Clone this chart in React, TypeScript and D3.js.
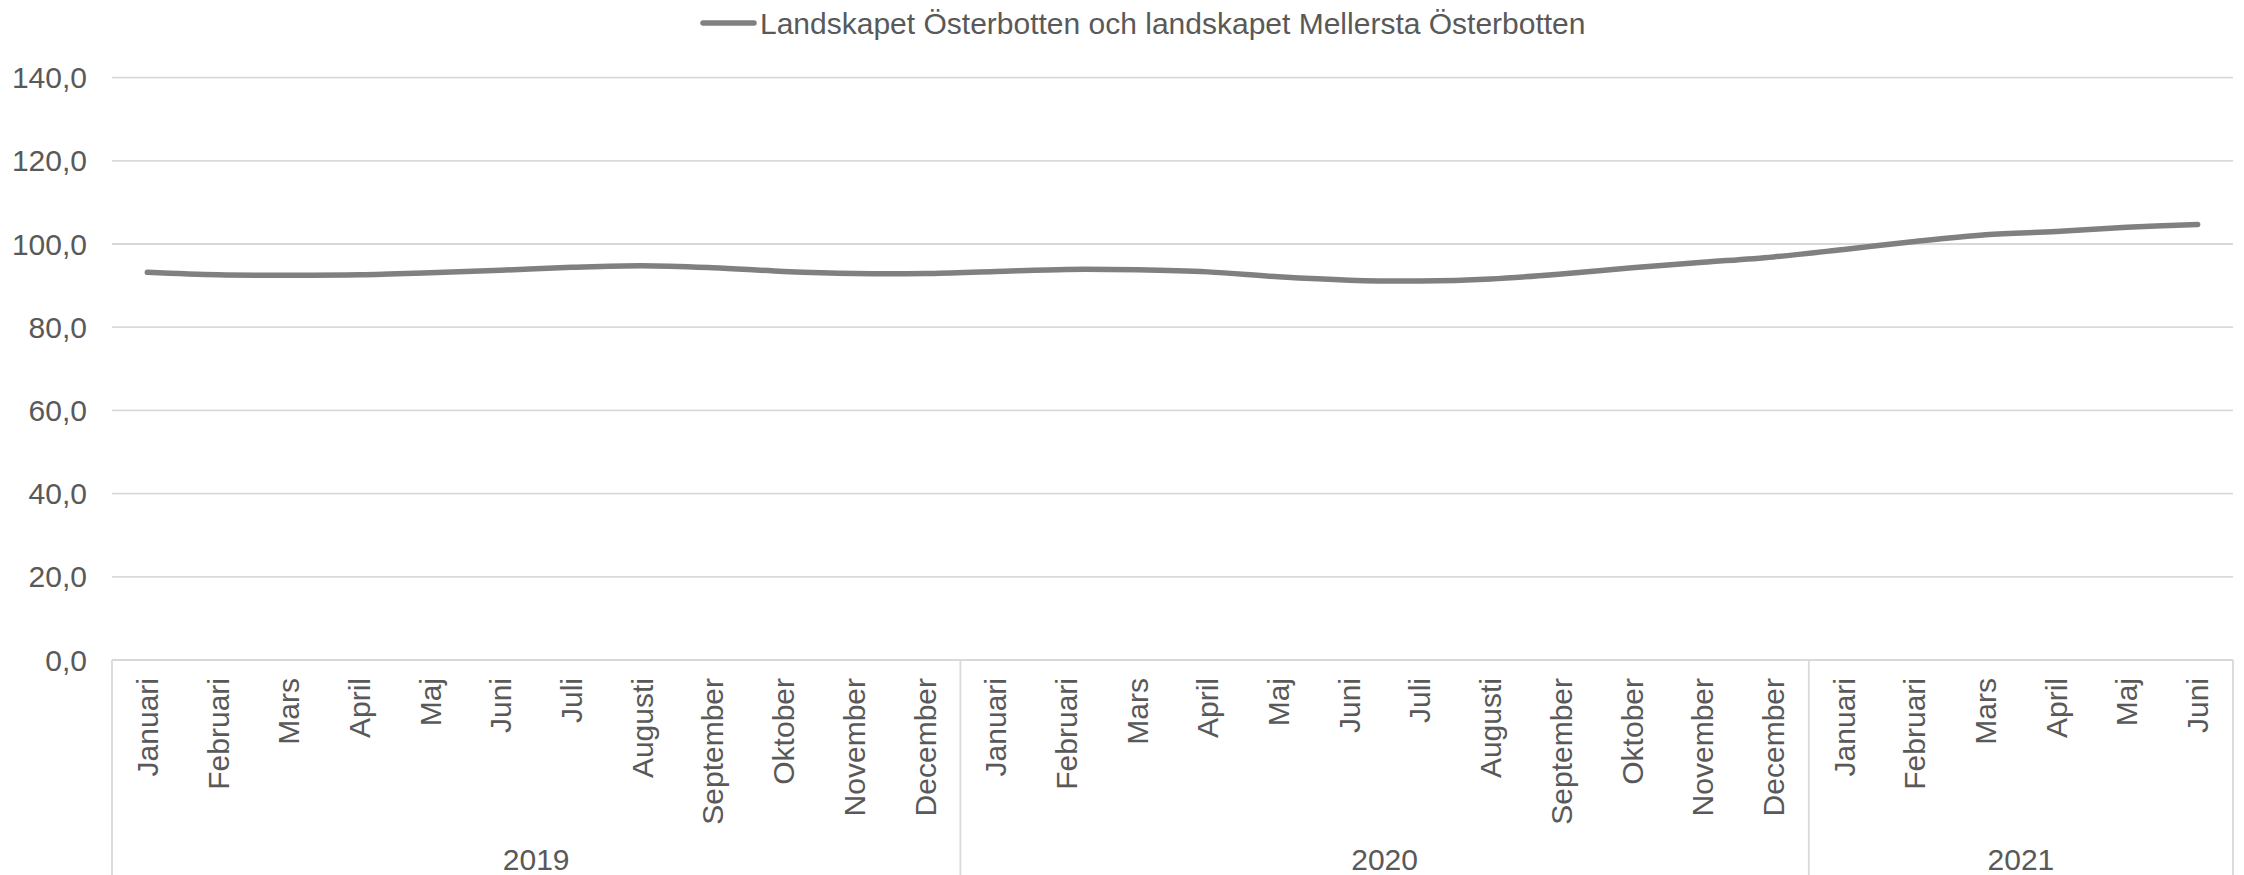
import * as d3 from "d3";
import { useEffect, useRef } from "react";

// series + categories
const seriesName = "Landskapet Österbotten och landskapet Mellersta Österbotten";
const years = ["2019", "2020", "2021"];
const monthsPerYear = [12, 12, 6];
const monthNames = [
  "Januari",
  "Februari",
  "Mars",
  "April",
  "Maj",
  "Juni",
  "Juli",
  "Augusti",
  "September",
  "Oktober",
  "November",
  "December",
];
const values = [
  93.2, 92.6, 92.5, 92.6, 93.1, 93.7, 94.4, 94.8, 94.3, 93.4, 92.9, 92.9,
  93.4, 93.9, 93.8, 93.3, 92.1, 91.3, 91.1, 91.6, 92.8, 94.3, 95.6, 96.9,
  98.7, 100.6, 102.2, 103.0, 104.0, 104.7,
];
const yTicks = [0, 20, 40, 60, 80, 100, 120, 140];

export default function App() {
  const ref = useRef<SVGSVGElement | null>(null);

  useEffect(() => {
    const width = 2244;
    const height = 875;
    const margin = { top: 77.6, right: 11, bottom: 215, left: 112 };
    const font = "'Liberation Sans', Arial, sans-serif";
    const fontSize = 30;
    const textColor = "#595959";
    const gridColor = "#d9d9d9";
    const lineColor = "#808080";

    const svg = d3.select(ref.current);
    svg.selectAll("*").remove();

    const categories = years.flatMap((year, yi) =>
      monthNames.slice(0, monthsPerYear[yi]).map((month) => ({ year, month, key: `${year}-${month}` }))
    );

    const x = d3
      .scaleBand()
      .domain(categories.map((d) => d.key))
      .range([margin.left, width - margin.right])
      .padding(0);
    const y = d3
      .scaleLinear()
      .domain([0, 140])
      .range([height - margin.bottom, margin.top]);
    const cx = (i: number) => x(categories[i].key)! + x.bandwidth() / 2;

    // gridlines (the 0 line doubles as the axis line)
    svg
      .append("g")
      .selectAll("line")
      .data(yTicks)
      .enter()
      .append("line")
      .attr("x1", margin.left)
      .attr("x2", width - margin.right)
      .attr("y1", (d) => y(d))
      .attr("y2", (d) => y(d))
      .attr("stroke", gridColor)
      .attr("stroke-width", 1.8);

    // y labels
    const fmt = d3.format(".1f");
    svg
      .append("g")
      .selectAll("text")
      .data(yTicks)
      .enter()
      .append("text")
      .attr("x", 87)
      .attr("y", (d) => y(d))
      .attr("dy", "0.35em")
      .attr("text-anchor", "end")
      .attr("font-family", font)
      .attr("font-size", fontSize)
      .attr("fill", textColor)
      .text((d) => fmt(d).replace(".", ","));

    // year group separators
    let start = 0;
    const groups = years.map((year, yi) => {
      const g = { year, first: start, last: start + monthsPerYear[yi] - 1 };
      start += monthsPerYear[yi];
      return g;
    });
    const bounds = [
      ...groups.map((g) => x(categories[g.first].key)!),
      x(categories[categories.length - 1].key)! + x.bandwidth(),
    ];
    svg
      .append("g")
      .selectAll("line")
      .data(bounds)
      .enter()
      .append("line")
      .attr("x1", (d) => d)
      .attr("x2", (d) => d)
      .attr("y1", y(0))
      .attr("y2", height)
      .attr("stroke", gridColor)
      .attr("stroke-width", 1.8);

    // month labels
    svg
      .append("g")
      .selectAll("text")
      .data(categories)
      .enter()
      .append("text")
      .attr("transform", (_, i) => `translate(${cx(i)},${y(0) + 18}) rotate(-90)`)
      .attr("dy", "0.35em")
      .attr("text-anchor", "end")
      .attr("font-family", font)
      .attr("font-size", fontSize)
      .attr("fill", textColor)
      .text((d) => d.month);

    // year labels
    svg
      .append("g")
      .selectAll("text")
      .data(groups)
      .enter()
      .append("text")
      .attr("x", (g) => (x(categories[g.first].key)! + x(categories[g.last].key)! + x.bandwidth()) / 2)
      .attr("y", 859)
      .attr("dy", "0.35em")
      .attr("text-anchor", "middle")
      .attr("font-family", font)
      .attr("font-size", fontSize)
      .attr("fill", textColor)
      .text((g) => g.year);

    // series line
    svg
      .append("path")
      .datum(values)
      .attr("fill", "none")
      .attr("stroke", lineColor)
      .attr("stroke-width", 5.5)
      .attr("stroke-linecap", "round")
      .attr("stroke-linejoin", "round")
      .attr(
        "d",
        d3
          .line<number>()
          .x((_, i) => cx(i))
          .y((d) => y(d))
          .curve(d3.curveCatmullRom.alpha(0.5))
      );

    // legend
    const legend = svg.append("g").attr("transform", "translate(700,23)");
    legend
      .append("line")
      .attr("x1", 3)
      .attr("x2", 54)
      .attr("stroke", lineColor)
      .attr("stroke-width", 5.5)
      .attr("stroke-linecap", "round");
    legend
      .append("text")
      .attr("x", 60)
      .attr("dy", "0.35em")
      .attr("font-family", font)
      .attr("font-size", fontSize)
      .attr("fill", textColor)
      .text(seriesName);
  }, []);

  return (
    <div>
      <style>{"body{margin:0}"}</style>
      <svg ref={ref} width={2244} height={875} style={{ display: "block", background: "#fff" }} />
    </div>
  );
}
